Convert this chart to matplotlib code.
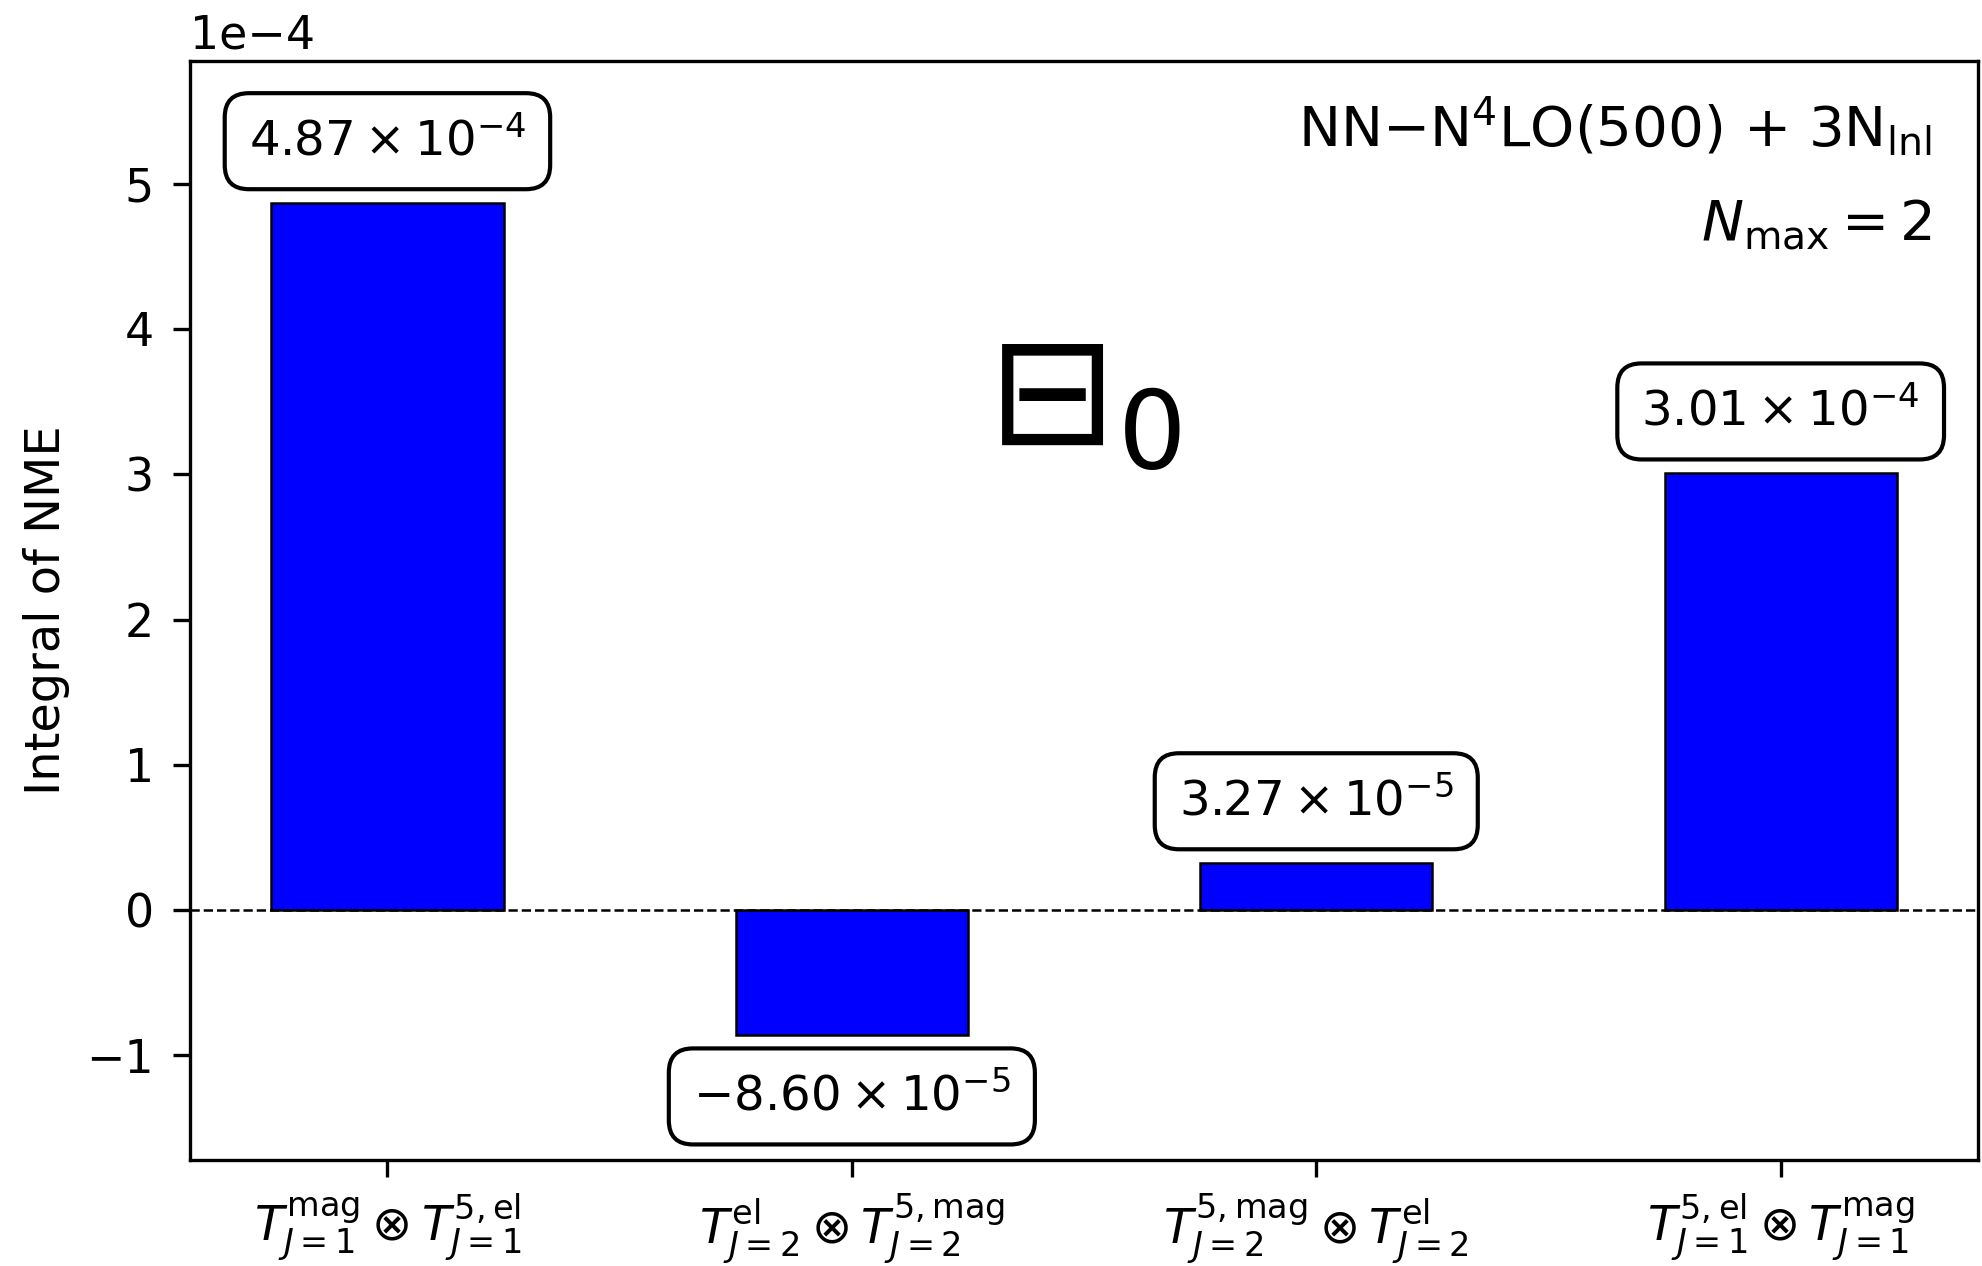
import matplotlib
matplotlib.use("Agg")
import matplotlib.pyplot as plt
import numpy as np

# Contributions to the integrated nuclear matrix element
labels = [
    r"$T^{\mathrm{mag}}_{J=1} \otimes T^{5,\mathrm{el}}_{J=1}$",
    r"$T^{\mathrm{el}}_{J=2} \otimes T^{5,\mathrm{mag}}_{J=2}$",
    r"$T^{5,\mathrm{mag}}_{J=2} \otimes T^{\mathrm{el}}_{J=2}$",
    r"$T^{5,\mathrm{el}}_{J=1} \otimes T^{\mathrm{mag}}_{J=1}$",
]
values = [4.87e-4, -8.60e-5, 3.27e-5, 3.01e-4]
value_texts = [
    r"$4.87 \times 10^{-4}$",
    r"$-8.60 \times 10^{-5}$",
    r"$3.27 \times 10^{-5}$",
    r"$3.01 \times 10^{-4}$",
]

plt.rcParams["font.size"] = 11

fig = plt.figure(figsize=(1982 / 300, 1266 / 300), dpi=300)
ax = fig.add_axes([0.0959, 0.0837, 0.9021, 0.8681])

x = np.arange(len(values))
ax.bar(x, values, width=0.5, color="blue", edgecolor="black", linewidth=0.6)
ax.axhline(0, color="black", linestyle="--", linewidth=0.6)

ax.set_xticks(x)
ax.set_xticklabels(labels, fontsize=11.5)
ax.tick_params(axis="y", length=4.2, pad=4.5)
ax.tick_params(axis="x", length=4.0)
ax.set_ylabel("Integral of NME", fontsize=11.5)
ax.set_ylim(min(values) * 2, max(values) * 1.2)
ax.ticklabel_format(axis="y", style="sci", scilimits=(-4, -4))

for xi, v, t in zip(x, values, value_texts):
    off = 9 if v >= 0 else -9
    ax.annotate(t, xy=(xi, v), xytext=(0, off), textcoords="offset points",
                ha="center", va="bottom" if v >= 0 else "top", fontsize=11.6,
                bbox=dict(boxstyle="round,pad=0.5", facecolor="white",
                          edgecolor="black", linewidth=1.0))

ax.text(0.974, 0.941, r"NN$-$N$^4$LO(500) + 3N$_{\mathrm{lnl}}$",
        transform=ax.transAxes, ha="right", va="center", fontsize=13.5)
ax.text(0.974, 0.851, r"$N_{\mathrm{max}} = 2$",
        transform=ax.transAxes, ha="right", va="center", fontsize=13.5)
ax.text(0.5, 0.69, r"$\boxminus_0$", transform=ax.transAxes,
        ha="center", va="center", fontsize=37)

fig.savefig("out.png", dpi=300)
